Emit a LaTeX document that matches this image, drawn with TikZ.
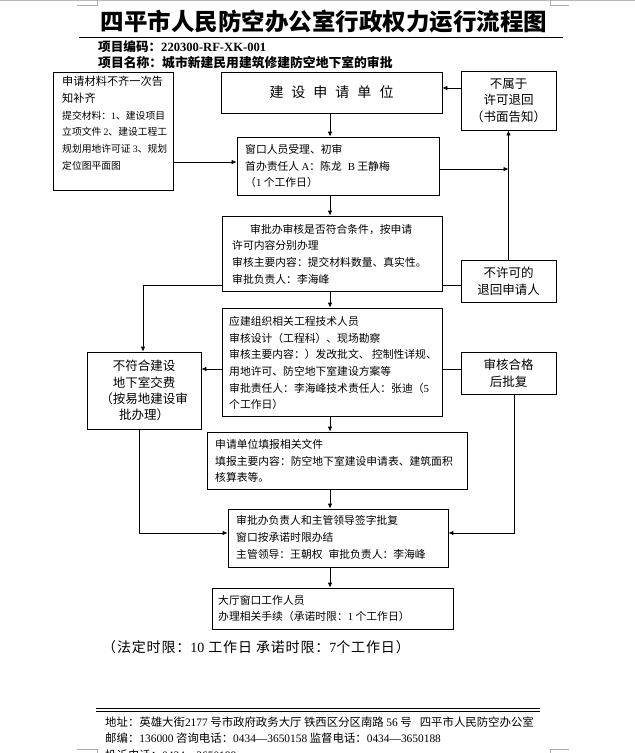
\documentclass[tikz,border=0pt]{standalone}
\usepackage{fontspec}
\setmainfont{Noto Sans CJK SC}
\newfontfamily\ls{Liberation Serif}
\usetikzlibrary{arrows.meta}
\begin{document}
\begin{tikzpicture}[x=1pt,y=-1pt,
  box/.style={draw, line width=0.8pt, inner sep=0pt},
  txt/.style={inner sep=0pt, align=left, font=\fontsize{10.8}{16.7}\selectfont},
  sbox/.style={draw, line width=0.8pt, inner sep=0pt, align=center, minimum width=95pt, font=\fontsize{12.5}{16.8}\selectfont},
  arr/.style={line width=0.8pt, -{Latex[length=5pt,width=4.5pt]}},
  ln/.style={line width=0.8pt},
  cropmk/.style={draw=gray!65, line width=0.7pt}]
\useasboundingbox (0,0) rectangle (635,753);
\fill[white] (0,0) rectangle (635,753);
% page edge and crop marks
\draw[gray!55, line width=1pt] (0,0.5) -- (635,0.5);
\draw[cropmk] (77,5) -- (97,5) -- (97,0);
\draw[cropmk] (550,0) -- (550,5) -- (569,5);
\draw[cropmk] (77,749) -- (97,749) -- (97,753);
\draw[cropmk] (569,749) -- (550,749) -- (550,753);

% header
\node[font=\fontsize{23.5}{25}\selectfont\bfseries, inner sep=0pt] (title) at (324,22) {四平市人民防空办公室行政权力运行流程图};
\draw[line width=0.9pt] (79,37) -- (563,37);
\node[anchor=west, inner sep=0pt, font=\fontsize{12.6}{14}\selectfont\bfseries] (code) at (98,47) {项目编码：{\ls\bfseries 220300-RF-XK-001}};
\node[anchor=west, inner sep=0pt, font=\fontsize{12.8}{14}\selectfont\bfseries] (pname) at (98,63) {项目名称：城市新建民用建筑修建防空地下室的审批};

% boxes
\node[box, minimum width=120pt, minimum height=118pt] (b1) at (113,131) {};
\node[txt, anchor=north west] (b1t) at (62,76) {{\fontsize{11.2}{16.8}\selectfont 申请材料不齐一次告}\\{\fontsize{11.2}{16.8}\selectfont 知补齐}\\{\fontsize{9.8}{16.8}\selectfont 提交材料：{\ls 1}、建设项目}\\{\fontsize{9.8}{16.8}\selectfont 立项文件 {\ls 2}、建设工程工}\\{\fontsize{9.8}{16.8}\selectfont 规划用地许可证 {\ls 3}、规划}\\{\fontsize{9.8}{16.8}\selectfont 定位图平面图}};

\node[box, minimum width=221pt, minimum height=41pt, font=\fontsize{14}{16}\selectfont] (b2) at (331.5,92.5) {建\hspace{8pt}设\hspace{8pt}申\hspace{8pt}请\hspace{8pt}单\hspace{8pt}位};

\node[box, minimum width=202pt, minimum height=58pt] (b3) at (338,166) {};
\node[txt, anchor=west] (b3t) at (245,166) {窗口人员受理、初审\\首办责任人 {\ls A}：陈龙\hspace{6pt}{\ls B} 王静梅\\（{\ls 1} 个工作日）};

\node[sbox, minimum height=59pt] (b4) at (508.5,100.5) {不属于\\许可退回\\（书面告知）};
\node[sbox, minimum height=42pt] (b5) at (508.5,281) {不许可的\\退回申请人};

\node[box, minimum width=220pt, minimum height=75pt] (b6) at (332,253.5) {};
\node[txt, anchor=west] (b6t) at (232,254) {\hspace*{18pt}审批办审核是否符合条件，按申请\\许可内容分别办理\\审核主要内容：提交材料数量、真实性。\\审批负责人：李海峰};

\node[box, minimum width=220pt, minimum height=108pt] (b7) at (332,362) {};
\node[txt, anchor=west] (b7t) at (229,363) {应建组织相关工程技术人员\\审核设计（工程科）、现场勘察\\审核主要内容：）发改批文、 控制性详规、\\用地许可、防空地下室建设方案等\\审批责任人：李海峰技术责任人：张迪（{\ls 5}\\个工作日）};

\node[sbox, minimum width=114pt, minimum height=77pt, font=\fontsize{12.5}{16.3}\selectfont] (b8) at (144,390.5) {不符合建设\\地下室交费\\（按易地建设审\\批办理）};
\node[sbox, minimum height=42pt] (b9) at (508.5,373) {审核合格\\后批复};

\node[box, minimum width=260pt, minimum height=57pt] (b10) at (337,460.5) {};
\node[txt, anchor=west] (b10t) at (215,461) {申请单位填报相关文件\\填报主要内容：防空地下室建设申请表、建筑面积\\核算表等。};

\node[box, minimum width=220pt, minimum height=58pt] (b11) at (338,538) {};
\node[txt, anchor=west] (b11t) at (236,537.5) {审批办负责人和主管领导签字批复\\窗口按承诺时限办结\\主管领导：王朝权\hspace{6pt}审批负责人：李海峰};

\node[box, minimum width=241pt, minimum height=41pt] (b12) at (332.5,608.5) {};
\node[txt, anchor=west] (b12t) at (218,608.5) {大厅窗口工作人员\\办理相关手续（承诺时限：{\ls 1} 个工作日）};

% connectors
\coordinate (sp) at (330,0);
\coordinate (r88) at (0,88);
\coordinate (r162) at (0,162);
\coordinate (j1) at (508.5,169);
\coordinate (r285) at (0,285);
\coordinate (k1) at (143,285);
\coordinate (r369) at (0,369);
\coordinate (k2) at (514,533);
\coordinate (k3) at (139,533);

\draw[arr] (b4.west |- r88) -- (b2.east |- r88);
\draw[arr] (b2.south -| sp) -- (b3.north -| sp);
\draw[arr] (b1.east |- r162) -- (b3.west |- r162);
\draw[arr] (b3.east |- j1) -- (j1);
\draw[arr] (b5.north) -- (b4.south);
\draw[arr] (b3.south -| sp) -- (b6.north -| sp);
\draw[ln] (b6.east |- r285) -- (b5.west |- r285);
\draw[arr] (b6.west |- k1) -- (k1) -- (b8.north -| k1);
\draw[arr] (b6.south -| sp) -- (b7.north -| sp);
\draw[arr] (b7.west |- r369) -- (b8.east |- r369);
\draw[ln] (b7.east |- r369) -- (b9.west |- r369);
\draw[arr] (b7.south -| sp) -- (b10.north -| sp);
\draw[arr] (b10.south -| sp) -- (b11.north -| sp);
\draw[arr] (b9.south -| k2) -- (k2) -- (b11.east |- k2);
\draw[arr] (b8.south -| k3) -- (k3) -- (b11.west |- k3);
\draw[arr] (b11.south -| sp) -- (b12.north -| sp);

% time limit
\node[anchor=west, inner sep=0pt, font=\fontsize{14}{16}\selectfont\addfontfeatures{LetterSpace=6}] (limit) at (102,647) {（法定时限：{\ls 10} 工作日 承诺时限：{\ls 7}个工作日）};

% footer
\draw[line width=0.9pt] (96,708) -- (540,708);
\draw[line width=0.9pt] (96,711.5) -- (540,711.5);
\node[anchor=west, inner sep=0pt, font=\fontsize{11.4}{14}\selectfont] (f1) at (105,722) {地址：英雄大街{\ls 2177} 号市政府政务大厅 铁西区分区南路 {\ls 56} 号\hspace{8pt}四平市人民防空办公室};
\node[anchor=west, inner sep=0pt, font=\fontsize{11.4}{14}\selectfont] (f2) at (105,738) {邮编：{\ls 136000} 咨询电话：{\ls 0434—3650158} 监督电话：{\ls 0434—3650188}};
\node[anchor=west, inner sep=0pt, font=\fontsize{11.4}{14}\selectfont] (f3) at (105,755) {投诉电话：{\ls 0434—3650188}};
\end{tikzpicture}
\end{document}
